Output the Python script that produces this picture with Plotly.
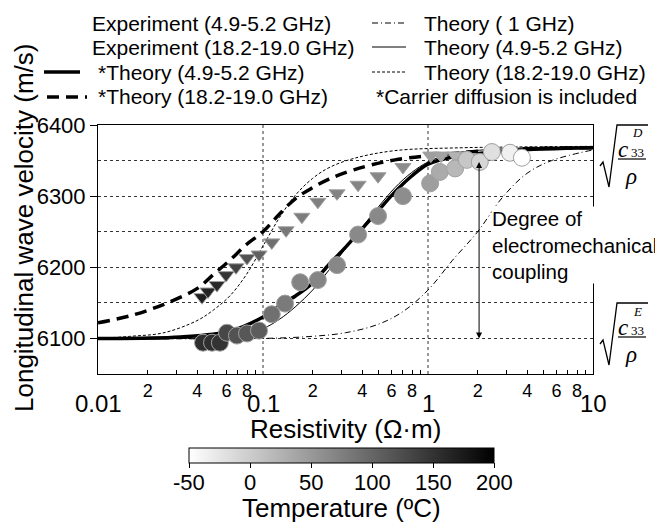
import numpy as np
import plotly.graph_objects as go

# Experiment 4.9-5.2 GHz (circles): resistivity (Ohm m), velocity (m/s), temperature (C)
rho_exp5 = [0.0433, 0.0491, 0.0548, 0.0605, 0.0695, 0.080, 0.0946, 0.113, 0.136, 0.168, 0.215, 0.281,
            0.377, 0.498, 0.705, 1.03, 1.18, 1.46, 1.72, 2.06, 2.44, 3.14, 3.71]
vel_exp5 = [6094, 6094, 6094, 6108, 6104, 6107, 6111, 6134, 6149, 6179, 6182, 6203,
            6246, 6272, 6300, 6318, 6334, 6339, 6351, 6348, 6362, 6361, 6354]
temp_exp5 = [155, 155, 150, 130, 120, 115, 110, 90, 80, 72, 70, 68,
             66, 66, 62, 45, 32, 20, 5, -10, -20, -35, -50]

# Experiment 18.2-19.0 GHz (down triangles)
rho_exp19 = [0.0427, 0.0464, 0.0526, 0.0597, 0.0686, 0.080, 0.0946, 0.113, 0.138, 0.172, 0.215, 0.281,
             0.377, 0.498, 0.705, 1.04, 1.20, 1.46, 1.75, 2.06]
vel_exp19 = [6158, 6166, 6175, 6189, 6200, 6213, 6218, 6235, 6252, 6271, 6292, 6304,
             6316, 6328, 6341, 6357, 6357, 6357, 6355, 6354]
temp_exp19 = [170, 165, 160, 150, 135, 120, 105, 90, 82, 78, 75, 72,
              70, 68, 62, 45, 40, 25, 10, 0]

# theory curves
rho_th5 = [0.01, 0.0316, 0.0631, 0.1, 0.126, 0.158, 0.2, 0.251, 0.316, 0.398, 0.501, 0.631,
           0.794, 1.0, 1.41, 3.16, 10]
vel_th5_diff = [6100, 6102, 6110, 6130, 6146, 6160, 6178, 6204, 6228, 6254, 6280, 6306,
                6328, 6345, 6355, 6364, 6368]
vel_th5 = [6100, 6100, 6103, 6114, 6127, 6145, 6168, 6196, 6226, 6256, 6285, 6312,
           6333, 6348, 6360, 6367, 6369]

rho_th19 = [0.01, 0.0158, 0.0251, 0.0398, 0.0501, 0.0631, 0.0794, 0.1, 0.126, 0.158, 0.2, 0.251,
            0.355, 0.631, 1.585, 3.16, 10]
vel_th19_diff = [6122, 6132, 6148, 6170, 6190, 6210, 6232, 6250, 6275, 6297, 6312, 6324,
                 6337, 6351, 6361, 6366, 6368]
vel_th19 = [6100, 6103, 6108, 6125, 6140, 6160, 6190, 6230, 6270, 6302, 6325, 6340,
            6353, 6364, 6368, 6369, 6370]

rho_th1 = [0.01, 0.1, 0.2, 0.316, 0.501, 0.708, 1.0, 1.41, 2.0, 2.82, 3.98, 5.62, 10]
vel_th1 = [6100, 6100, 6103, 6108, 6120, 6138, 6168, 6210, 6250, 6298, 6332, 6350, 6365]

temp_ticks = [-50, 0, 50, 100, 150, 200]
major_x = [0.01, 0.1, 1, 10]
minor_x = [m * d for d in [0.01, 0.1, 1] for m in range(2, 10)]
minor_lbl = [str(m) if m % 2 == 0 else "" for d in [0.01, 0.1, 1] for m in range(2, 10)]
vel_ticks = [6100, 6200, 6300, 6400]
v_E, v_D = 6100, 6350
rho_arrow = 2.04

FONT = "Liberation Sans, Arial, sans-serif"
SERIF = "Liberation Serif, Times New Roman, serif"
# plot box in page pixels; the page body adds an 8px offset to the figure
OFF = 8
L, R, T, B = 98, 593, 125, 374
CB_L, CB_R = 189, 494


def px(x):
    return (x - L) / (R - L)


def py(y):
    return (B - y) / (B - T)


def label(x, y, text, size, family=FONT, **kw):
    opts = dict(xref="paper", yref="paper", xanchor="center", yanchor="middle", showarrow=False)
    opts.update(kw)
    fig.add_annotation(x=px(x), y=py(y), text=text, font=dict(size=size, family=family, color="black"), **opts)


fig = go.Figure()

fig.add_trace(go.Scatter(x=rho_th1, y=vel_th1, mode="lines", line=dict(color="black", width=1, dash="6px,3px,1px,3px", shape="spline")))
fig.add_trace(go.Scatter(x=rho_th5, y=vel_th5, mode="lines", line=dict(color="black", width=1, shape="spline")))
fig.add_trace(go.Scatter(x=rho_th19, y=vel_th19, mode="lines", line=dict(color="black", width=1, dash="3px,2px", shape="spline")))
fig.add_trace(go.Scatter(x=rho_th5, y=vel_th5_diff, mode="lines", line=dict(color="black", width=3.5, shape="spline")))
fig.add_trace(go.Scatter(x=rho_th19, y=vel_th19_diff, mode="lines", line=dict(color="black", width=3.5, dash="12px,7px", shape="spline")))

fig.add_trace(go.Scatter(x=rho_exp19, y=vel_exp19, mode="markers",
                         marker=dict(symbol="triangle-down", size=14, color=temp_exp19, coloraxis="coloraxis",
                                     line=dict(color="#a0a0a0", width=1))))
fig.add_trace(go.Scatter(x=rho_exp5, y=vel_exp5, mode="markers",
                         marker=dict(symbol="circle", size=17, color=temp_exp5, coloraxis="coloraxis",
                                     line=dict(color="#a0a0a0", width=1))))

# vertical dotted grid at the decades
for v in major_x[1:3]:
    fig.add_shape(type="line", x0=v, x1=v, y0=0, y1=1, xref="x", yref="paper",
                  line=dict(color="#333", width=1, dash="dot"), layer="below")

# degree of electromechanical coupling arrow
fig.add_annotation(x=np.log10(rho_arrow), y=v_E, ax=np.log10(rho_arrow), ay=v_D, xref="x", yref="y",
                   axref="x", ayref="y", text="", showarrow=True, arrowhead=2, arrowsize=1.2,
                   arrowwidth=1, arrowside="end+start", arrowcolor="black", standoff=0, startstandoff=0)
label(491, 245, "Degree of<br>electromechanical<br>coupling", 20.5, xanchor="left", align="left",
      bgcolor="white", borderpad=0)

# major x labels
for v in major_x:
    fig.add_annotation(x=np.log10(v), y=py(403), xref="x", yref="paper", text=f"{v:g}", yanchor="middle",
                       showarrow=False, font=dict(size=24, family=FONT, color="black"))

# colorbar tick labels
for t in temp_ticks:
    label(CB_L + (t - temp_ticks[0]) / (temp_ticks[-1] - temp_ticks[0]) * (CB_R - CB_L), 482, f"{t}", 22)

# axis titles
label(345.5, 429, "Resistivity (Ω·m)", 26)
label(24, 228, "Longitudinal wave velocity (m/s)", 26, textangle=-90)
label(341, 508, "Temperature (ºC)", 26)

# sqrt(c33/rho) labels
for yc, sup in [(0, "D"), (178, "E")]:
    path = "M {} {} L {} {} L {} {} L {} {} L {} {}".format(
        px(600), py(166 + yc), px(603), py(162 + yc), px(609), py(187 + yc), px(617), py(125 + yc),
        px(648), py(125 + yc))
    fig.add_shape(type="path", path=path, xref="paper", yref="paper", line=dict(color="black", width=1.3))
    fig.add_shape(type="line", x0=px(618), x1=px(646), y0=py(159 + yc), y1=py(159 + yc),
                  xref="paper", yref="paper", line=dict(color="black", width=1.2))
    label(623, 149 + yc, "<i>c</i>", 23, SERIF)
    label(637, 152 + yc, "33", 13, SERIF)
    label(637, 133 + yc, f"<i>{sup}</i>", 13, SERIF)
    label(631, 176 + yc, "<i>ρ</i>", 23, SERIF)

# legend, drawn by hand
rows = [23, 47, 72, 97]
legend_left = [("Experiment (4.9-5.2 GHz)", 91, None), ("Experiment (18.2-19.0 GHz)", 91, None),
               ("*Theory (4.9-5.2 GHz)", 97, dict(width=3.5, x0=44, x1=80)),
               ("*Theory (18.2-19.0 GHz)", 97, dict(width=3.5, x0=47, x1=87, dash="12px,7px"))]
legend_right = [("Theory ( 1 GHz)", 423, dict(width=1, x0=372, x1=406, dash="6px,3px,1px,3px")),
                ("Theory (4.9-5.2 GHz)", 423, dict(width=1, x0=372, x1=406)),
                ("Theory (18.2-19.0 GHz)", 423, dict(width=1, x0=372, x1=406, dash="3px,2px")),
                ("*Carrier diffusion is included", 375, None)]
for row, (txt, x, ln) in zip(rows + rows, legend_left + legend_right):
    label(x, row, txt, 21, xanchor="left", borderpad=0)
    if ln:
        fig.add_shape(type="line", x0=px(ln["x0"]), x1=px(ln["x1"]), y0=py(row), y1=py(row),
                      xref="paper", yref="paper",
                      line=dict(color="black", width=ln["width"], dash=ln.get("dash", "solid")))

fig.update_layout(
    width=663 - OFF, height=527 - OFF,
    margin=dict(l=L - OFF, r=663 - R, t=T - OFF, b=527 - B, autoexpand=False),
    paper_bgcolor="white", plot_bgcolor="white",
    showlegend=False,
    font=dict(family=FONT, color="black"),
    coloraxis=dict(
        colorscale=[[0, "#ffffff"], [1, "#000000"]], cmin=-50, cmax=200,
        colorbar=dict(orientation="h", lenmode="pixels", len=CB_R - CB_L, thickness=15,
                      x=px((CB_L + CB_R) / 2), xanchor="center", y=py(448), yanchor="top", xpad=0, ypad=0,
                      outlinecolor="black", outlinewidth=1, tickvals=temp_ticks, ticks="outside",
                      ticklen=5, tickcolor="black", showticklabels=False)
    ),
    xaxis=dict(type="log", range=[-2, 1], showline=True, linecolor="black", linewidth=1, mirror=True,
               ticks="inside", ticklen=4, tickcolor="black", tickvals=minor_x, ticktext=minor_lbl,
               tickfont=dict(size=18, family=FONT, color="black"), showgrid=False, zeroline=False),
    yaxis=dict(range=[6050, 6400], showline=True, linecolor="black", linewidth=1, mirror=True,
               ticks="outside", ticklen=7, tickcolor="black", tickvals=vel_ticks,
               tickfont=dict(size=22, family=FONT, color="black"),
               showgrid=True, gridcolor="#333", gridwidth=1, griddash="dot", zeroline=False,
               minor=dict(dtick=50, tick0=6050, showgrid=True, gridcolor="#333", griddash="dot", ticks="")),
)

fig.write_html("out.html")
